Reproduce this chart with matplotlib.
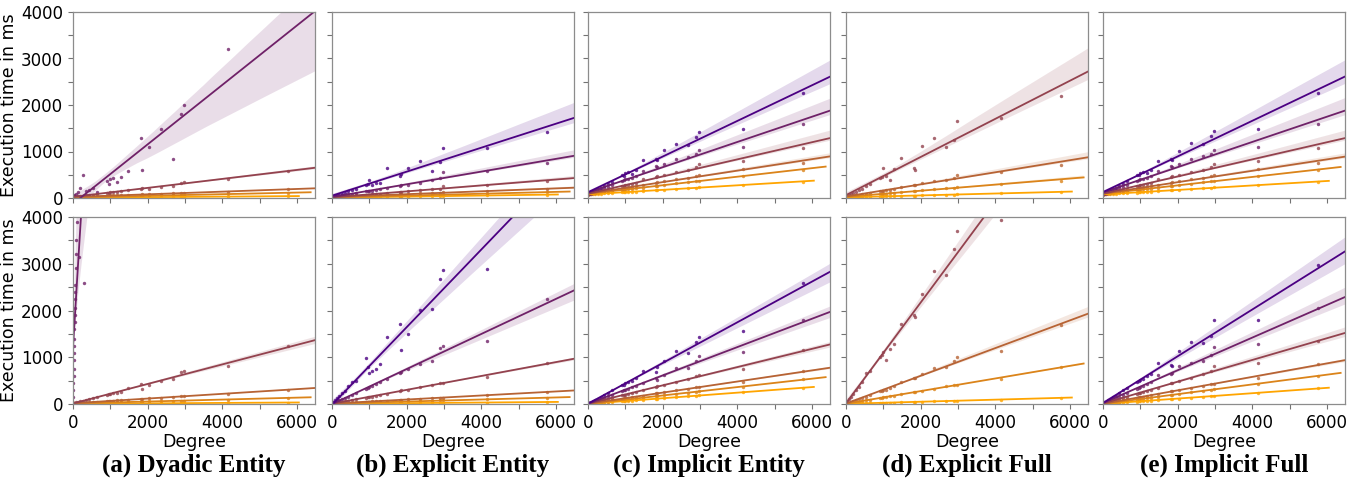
"""
Execution time vs. degree, five variants x two settings (regression fits per series)
"""

import numpy as np
import matplotlib
matplotlib.use('Agg')
import matplotlib.pyplot as plt
from matplotlib.ticker import MultipleLocator, FuncFormatter
import seaborn as sns

nan = np.nan

# Degree of each measured node (shared by all series)
DEGREE = [15, 40, 80, 130, 190, 260, 340, 430, 530, 650, 900, 960, 1000,
          1060, 1180, 1290, 1460, 1830, 1850, 2030, 2360, 2690, 2900, 2970,
          4140, 5760]

# the steep dyadic series in the lower row was measured at small degrees only
DYADIC_LOW_DEG = [4, 8, 12, 16, 20, 24, 28, 32, 36, 40, 44, 48, 52, 56, 60,
                  64, 72, 80, 88, 96, 104, 112, 150, 290]
DYADIC_LOW_MS = [150, 300, 450, 600, 750, 950, 1100, 1250, 1400, 1600, 1750,
                 1900, 2050, 2250, 2400, 2550, 2900, 3200, 3500, 3900, 4200,
                 4500, 3150, 2580]

TITLES = ["(a) Dyadic Entity", "(b) Explicit Entity", "(c) Implicit Entity",
          "(d) Explicit Full", "(e) Implicit Full"]

# execution times in ms, one list per series (indigo -> orange), None = not run
dyadic_top = [
    None,
    [40, 60, 90, 120, 210, 500, 150, 170, 210, 130, 360, 300, 400, 430, 350,
     460, 590, 1290, 610, 1090, 1480, 840, 1810, 2000, 3200, nan],
    [25, 35, 30, 40, 45, 50, 55, 70, 75, 90, 110, 115, 120, 125, 130, 150, 170,
     200, 220, 200, 240, 260, 320, 350, 400, 590],
    [15, 20, 20, 25, 25, 30, 30, 35, 35, 40, 50, 50, 55, 55, 60, 60, 65, 75, 80,
     80, 90, 100, 105, 110, 135, 185],
    [10, 12, 12, 14, 15, 16, 18, 20, 20, 22, 28, 28, 30, 30, 32, 35, 38, 45, 45,
     48, 55, 60, 62, 65, 85, 110],
    [5, 6, 6, 7, 7, 8, 8, 9, 9, 10, 12, 12, 12, 13, 13, 14, 15, 17, 17, 18, 20,
     22, 22, 23, 30, 40],
]
dyadic_bottom = [
    None,
    "low",
    [20, 25, 35, 45, 55, 70, 80, 100, 130, 150, 200, 210, 220, 230, 230, 250,
     340, 430, 330, 400, 500, 540, 680, 710, 820, 1230],
    [15, 16, 18, 20, 25, 28, 32, 37, 43, 50, 62, 65, 68, 70, 75, 82, 90, 110,
     112, 120, 135, 150, 165, 170, 210, 310],
    [10, 11, 12, 13, 15, 16, 18, 20, 22, 25, 30, 31, 32, 33, 36, 38, 42, 50, 51,
     55, 62, 68, 72, 73, 95, 130],
    [5, 5, 5, 6, 6, 6, 7, 7, 8, 8, 9, 9, 10, 10, 10, 11, 12, 13, 13, 14, 16, 17,
     18, 18, 24, 32],
]
explicit_entity_top = [
    [25, 30, 40, 55, 70, 90, 110, 150, 170, 200, 280, 300, 390, 290, 320, 330,
     645, 480, 520, 645, 790, 590, 780, 1075, 1075, 1420],
    [20, 25, 30, 35, 45, 60, 65, 80, 90, 110, 140, 150, 160, 150, 170, 190, 220,
     260, 280, 290, 330, 380, 420, 560, 590, 760],
    [15, 18, 20, 22, 25, 30, 35, 40, 45, 55, 70, 72, 75, 78, 85, 95, 110, 130,
     135, 145, 165, 190, 200, 250, 280, 360],
    [15, 16, 18, 20, 22, 25, 28, 32, 35, 40, 50, 52, 53, 55, 58, 62, 68, 80, 82,
     88, 100, 110, 118, 122, 140, 185],
    [10, 11, 12, 13, 15, 16, 18, 20, 22, 24, 30, 31, 32, 33, 35, 38, 42, 50, 51,
     55, 62, 68, 72, 73, 95, 120],
    [6, 7, 8, 8, 9, 10, 11, 12, 13, 14, 17, 17, 18, 19, 20, 21, 23, 28, 28, 30,
     34, 37, 39, 40, 55, 72],
]
explicit_entity_bottom = [
    [20, 45, 80, 120, 170, 230, 280, 380, 480, 500, 980, 800, 660, 700, 740,
     850, 1440, 1710, 1150, 1490, 2010, 2030, 2680, 2860, 2890, 5000],
    [15, 25, 40, 55, 75, 100, 130, 160, 200, 240, 330, 350, 370, 390, 430, 470,
     530, 660, 680, 750, 860, 920, 1200, 1250, 1350, 2250],
    [10, 15, 20, 25, 35, 45, 55, 70, 85, 100, 135, 145, 150, 160, 175, 195, 220,
     280, 300, 310, 360, 410, 440, 450, 580, 880],
    [10, 12, 13, 15, 18, 20, 24, 28, 32, 38, 48, 50, 52, 55, 60, 65, 72, 88, 90,
     98, 112, 125, 135, 138, 185, 260],
    [8, 9, 10, 11, 12, 14, 15, 17, 19, 22, 28, 29, 30, 31, 34, 37, 41, 50, 51,
     55, 63, 70, 75, 76, 98, 130],
    [5, 5, 6, 6, 6, 7, 7, 8, 8, 9, 11, 11, 12, 12, 13, 14, 15, 17, 17, 19, 21,
     23, 24, 25, 32, 42],
]
implicit_entity_top = [
    [100, 110, 120, 140, 160, 190, 210, 250, 300, 350, 500, 480, 530, 560, 520,
     600, 820, 840, 820, 1030, 1170, 1150, 1320, 1420, 1480, 2260],
    [95, 100, 110, 120, 140, 160, 180, 210, 240, 280, 360, 380, 400, 410, 430,
     470, 580, 680, 660, 740, 840, 890, 940, 1030, 1100, 1600],
    [85, 90, 95, 100, 110, 125, 140, 160, 180, 200, 250, 260, 270, 285, 300,
     330, 400, 460, 470, 500, 560, 610, 670, 730, 800, 1080],
    [90, 95, 100, 105, 112, 120, 130, 140, 155, 170, 200, 210, 215, 222, 238,
     250, 280, 330, 335, 355, 400, 440, 470, 500, 620, 750],
    [92, 95, 98, 102, 108, 114, 120, 128, 137, 148, 170, 176, 180, 186, 196,
     205, 225, 262, 265, 282, 312, 342, 360, 372, 470, 610],
    [80, 82, 83, 85, 88, 90, 94, 98, 102, 107, 120, 122, 124, 126, 132, 138,
     148, 165, 168, 178, 195, 210, 220, 228, 290, 350],
]
implicit_entity_bottom = [
    [15, 25, 40, 60, 85, 110, 150, 190, 240, 290, 400, 410, 440, 460, 500, 560,
     714, 693, 800, 914, 1143, 1100, 1336, 1443, 1571, 2590],
    [12, 20, 30, 45, 60, 80, 105, 135, 165, 200, 280, 290, 305, 320, 360, 390,
     450, 560, 520, 620, 760, 780, 930, 1020, 1120, 1790],
    [10, 15, 22, 30, 40, 55, 70, 90, 110, 135, 185, 195, 200, 215, 240, 260,
     300, 370, 380, 410, 470, 540, 600, 620, 740, 1150],
    [10, 12, 16, 22, 28, 35, 45, 55, 68, 82, 110, 118, 122, 130, 145, 158, 180,
     225, 228, 250, 290, 330, 360, 370, 465, 700],
    [8, 10, 13, 17, 22, 28, 35, 42, 50, 60, 82, 87, 90, 96, 107, 117, 132, 165,
     168, 183, 213, 240, 262, 268, 372, 530],
    [6, 8, 10, 12, 15, 19, 24, 29, 35, 42, 56, 60, 62, 66, 73, 80, 90, 112, 115,
     125, 145, 165, 178, 182, 255, 345],
]
explicit_full_top = [
    None,
    None,
    [30, 40, 60, 80, 100, 130, 170, 200, 250, 300, 430, 450, 640, 470, 390, 620,
     860, 645, 610, 1120, 1300, 1100, 1250, 1650, 1710, 2200],
    [25, 28, 32, 40, 50, 60, 70, 80, 95, 110, 150, 155, 160, 170, 180, 200, 230,
     270, 275, 330, 370, 390, 420, 500, 560, 720],
    [20, 22, 25, 28, 32, 38, 42, 50, 55, 65, 85, 88, 90, 95, 105, 110, 125, 150,
     155, 170, 190, 210, 225, 240, 300, 370],
    [15, 15, 16, 17, 18, 20, 21, 23, 25, 28, 32, 33, 35, 36, 38, 40, 45, 52, 53,
     57, 63, 70, 75, 78, 100, 130],
]
explicit_full_bottom = [
    None,
    None,
    [30, 60, 100, 150, 220, 300, 370, 480, 660, 700, 1000, 1050, 1120, 940,
     1170, 1290, 1710, 1910, 1870, 2350, 2840, 2760, 3310, 3710, 3930, 6300],
    [15, 22, 30, 45, 60, 80, 100, 130, 160, 190, 270, 280, 300, 310, 350, 380,
     470, 550, 560, 650, 760, 800, 910, 1000, 1130, 1700],
    [12, 15, 18, 24, 30, 38, 48, 60, 75, 92, 128, 135, 140, 148, 165, 180, 205,
     255, 260, 285, 330, 375, 405, 415, 545, 785],
    [5, 6, 7, 8, 9, 10, 12, 14, 16, 18, 24, 25, 26, 27, 30, 32, 36, 44, 45, 49,
     56, 63, 67, 69, 95, 135],
]
implicit_full_top = [
    [105, 110, 125, 140, 165, 190, 220, 260, 300, 360, 490, 500, 540, 550, 530,
     600, 800, 840, 810, 1020, 1180, 1160, 1340, 1440, 1490, 2250],
    [95, 100, 112, 122, 140, 160, 182, 210, 240, 280, 365, 380, 400, 410, 430,
     470, 580, 680, 670, 740, 840, 900, 950, 1040, 1100, 1590],
    [85, 90, 95, 100, 112, 125, 140, 160, 180, 200, 250, 262, 272, 285, 300,
     330, 400, 460, 470, 500, 560, 610, 670, 730, 800, 1080],
    [88, 94, 100, 106, 112, 120, 128, 140, 154, 168, 198, 208, 214, 220, 236,
     252, 282, 328, 334, 356, 398, 438, 468, 498, 615, 745],
    [90, 94, 98, 103, 108, 113, 120, 127, 136, 146, 168, 174, 178, 184, 195,
     204, 222, 258, 262, 280, 310, 340, 358, 370, 465, 600],
    [80, 81, 83, 85, 87, 90, 93, 97, 101, 106, 118, 121, 123, 125, 131, 137,
     146, 164, 167, 177, 193, 208, 218, 226, 288, 344],
]
implicit_full_bottom = [
    [20, 35, 50, 75, 100, 140, 180, 230, 290, 350, 470, 500, 520, 540, 590, 640,
     886, 836, 820, 1143, 1336, 1300, 1450, 1800, 1800, 2964],
    [15, 25, 40, 55, 75, 100, 130, 160, 200, 240, 330, 350, 370, 390, 430, 470,
     620, 643, 660, 821, 880, 929, 1050, 1229, 1279, 2050],
    [12, 18, 28, 40, 52, 68, 85, 108, 132, 160, 215, 230, 240, 255, 285, 310,
     350, 440, 445, 490, 565, 650, 700, 820, 870, 1355],
    [10, 13, 18, 25, 33, 42, 52, 65, 80, 98, 133, 141, 147, 156, 173, 190, 215,
     268, 272, 298, 345, 393, 425, 435, 560, 860],
    [8, 10, 13, 18, 23, 30, 38, 46, 57, 70, 95, 101, 105, 111, 124, 135, 153,
     192, 195, 213, 248, 282, 305, 312, 435, 605],
    [6, 7, 9, 11, 14, 17, 21, 26, 32, 39, 52, 55, 57, 61, 68, 74, 84, 105, 106,
     116, 135, 154, 166, 170, 236, 340],
]

TOP_ROW = [dyadic_top, explicit_entity_top, implicit_entity_top,
           explicit_full_top, implicit_full_top]
BOTTOM_ROW = [dyadic_bottom, explicit_entity_bottom, implicit_entity_bottom,
              explicit_full_bottom, implicit_full_bottom]

palette = sns.blend_palette(["indigo", "orange"], 6)

fig = plt.figure(figsize=(13.69, 4.8), dpi=100)

lefts = [73, 332, 588, 846, 1103]
ax_w = 242 / 1369
rows = [(282 / 480, 186 / 480), (76 / 480, 187 / 480)]


def tick_fmt(step):
    return FuncFormatter(lambda v, p: f"{v:.0f}" if v % step == 0 else "")


for r, row_data in enumerate([TOP_ROW, BOTTOM_ROW]):
    bottom, height = rows[r]
    for c, panel in enumerate(row_data):
        ax = fig.add_axes([lefts[c] / 1369, bottom, ax_w, height])
        # lightest series first, so the steep ones are drawn on top
        for i in reversed(range(6)):
            vals = panel[i]
            if vals is None:
                continue
            if isinstance(vals, str):
                x, y = DYADIC_LOW_DEG, DYADIC_LOW_MS
            else:
                x, y = DEGREE, vals
            sns.regplot(x=np.array(x, dtype=float), y=np.array(y, dtype=float),
                        ax=ax, color=palette[i], truncate=False, seed=0,
                        scatter_kws={"s": 6, "linewidths": 0},
                        line_kws={"lw": 1.3})
            # old seaborn behaviour: fitted lines take part in autoscaling,
            # so every later line reaches a bit further right
            for ln in ax.lines:
                ln.sticky_edges.x.clear()
        ax.set_xlim(0, 6480)
        ax.set_ylim(0, 4000)
        ax.xaxis.set_major_locator(MultipleLocator(1000))
        ax.yaxis.set_major_locator(MultipleLocator(500))
        for sp in ax.spines.values():
            sp.set_color("0.55")
            sp.set_linewidth(0.9)
        ax.tick_params(colors="0.45", labelcolor="black", labelsize=12,
                       length=3.5, width=0.8)
        if c == 0:
            ax.yaxis.set_major_formatter(tick_fmt(1000))
            ax.set_ylabel("Execution time in ms", fontsize=12.5, labelpad=2)
        else:
            ax.set_yticklabels([])
            ax.set_ylabel("")
        if r == 1:
            ax.xaxis.set_major_formatter(tick_fmt(2000))
            ax.set_xlabel("Degree", fontsize=12.5, labelpad=1)
            cx = (lefts[c] + 121) / 1369
            fig.text(cx, 0.031, TITLES[c], ha="center", va="center",
                     fontsize=18, fontweight="bold", family="Liberation Serif")
        else:
            ax.set_xticklabels([])
            ax.set_xlabel("")

plt.savefig("out.png", dpi=100)
print("saved out.png")
